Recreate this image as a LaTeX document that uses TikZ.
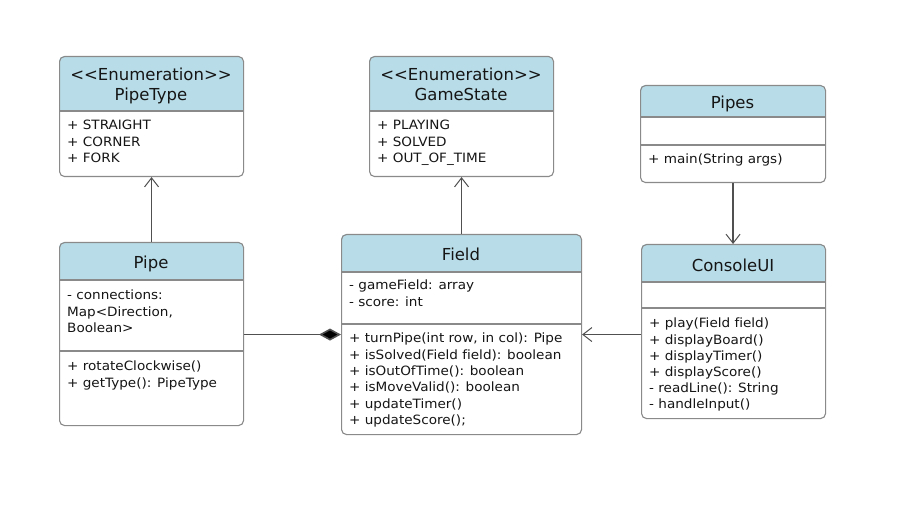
\documentclass[tikz,border=0pt]{standalone}
\usepackage{fontspec}
\setmainfont{DejaVu Sans}[Ligatures=NoCommon]
\newfontfamily\memberfont{DejaVu Sans}[Ligatures=NoCommon,FakeStretch=1.06]
\usetikzlibrary{arrows.meta}
\definecolor{hdr}{HTML}{B8DDE8}
\definecolor{edge}{HTML}{8A8A8A}
\definecolor{conn}{HTML}{505050}
\definecolor{ink}{HTML}{151515}
\tikzset{
  classbox/.style={draw=edge, line width=1.1pt, rounded corners=5pt, anchor=north west, inner sep=0pt},
  divider/.style={draw=edge, line width=1.1pt},
  member/.style={anchor=base west, inner sep=0pt, text=ink, font=\memberfont\fontsize{12.8}{15}\selectfont},
  title/.style={anchor=base, inner sep=0pt, text=ink, font=\fontsize{16.5}{19}\selectfont},
  openarrow/.style={draw=conn, line width=1.6pt, -{Straight Barb[length=9pt,width=14pt,line width=1pt]}},
  composition/.style={draw=conn, line width=1.6pt, -{Diamond[length=22pt,width=12pt,fill=black]}}
}
\newcommand\classframe[6]{% name, x1, y1, x2, y2, yheader
  \begin{scope}
    \clip[rounded corners=5pt] (#2,#3) rectangle (#4,#5);
    \fill[white] (#2,#3) rectangle (#4,#5);
    \fill[hdr] (#2,#3) rectangle (#4,#6);
  \end{scope}
  \draw[divider] (#2,#6) -- (#4,#6);
  \node[classbox, minimum width=#4pt-#2pt, minimum height=#5pt-#3pt] (#1) at (#2,#3) {};
}
\newcommand\enumtag{{<}{<}Enumeration{>}{>}}
\begin{document}
\begin{tikzpicture}[x=1pt,y=-1pt]
\useasboundingbox[fill=white] (0,0) rectangle (920,521);

% PipeType
\classframe{ptype}{59}{56}{243}{176}{111}
\node[title] (ptypeS) at (151,81) {\enumtag};
\node[title] (ptypeN) at (151,101) {PipeType};
\foreach \t [count=\i] in {+ STRAIGHT, + CORNER, + FORK}
  \node[member] (pt\i) at (67,{125+4.8+16.5*(\i-1)}) {\t};

% GameState
\classframe{gstate}{369}{56}{553}{176}{111}
\node[title] (gstateS) at (461,81) {\enumtag};
\node[title] (gstateN) at (461,101) {GameState};
\foreach \t [count=\i] in {+ PLAYING, + SOLVED, + OUT\_OF\_TIME}
  \node[member] (gs\i) at (377,{125+4.8+16.5*(\i-1)}) {\t};

% Pipes
\classframe{pipes}{640}{85}{825}{182}{117}
\draw[divider] (640,145) -- (825,145);
\node[title] (pipesN) at (732.5,109) {Pipes};
\node[member] (ps1) at (648,163.8) {+ main(String args)};

% Pipe
\classframe{pipe}{59}{242}{243}{425}{280}
\draw[divider] (59,351) -- (243,351);
\node[title] (pipeN) at (151,268) {Pipe};
\foreach \t [count=\i] in {- connections:, {Map<Direction,}, Boolean>}
  \node[member] (pa\i) at (67,{295+4.8+16.2*(\i-1)}) {\t};
\foreach \t [count=\i] in {+ rotateClockwise(), + getType(): PipeType}
  \node[member] (pm\i) at (67,{366+4.8+16.5*(\i-1)}) {\t};

% Field
\classframe{field}{341}{234}{581}{434}{272}
\draw[divider] (341,324) -- (581,324);
\node[title] (fieldN) at (461,260) {Field};
\foreach \t [count=\i] in {- gameField: array, - score: int}
  \node[member] (fa\i) at (349,{285+4.8+16.3*(\i-1)}) {\t};
\foreach \t [count=\i] in {{+ turnPipe(int row, in col): Pipe}, + isSolved(Field field): boolean, + isOutOfTime(): boolean, + isMoveValid(): boolean, + updateTimer(), + updateScore();}
  \node[member] (fm\i) at (349,{338+4.8+16.3*(\i-1)}) {\t};

% ConsoleUI
\classframe{cui}{641}{244}{825}{418}{282}
\draw[divider] (641,308) -- (825,308);
\node[title] (cuiN) at (733,271) {ConsoleUI};
\foreach \t [count=\i] in {+ play(Field field), + displayBoard(), + displayTimer(), + displayScore(), - readLine(): String, - handleInput()}
  \node[member] (cm\i) at (649,{323+4.8+16.2*(\i-1)}) {\t};

% connectors
\draw[openarrow] (pipe.north) -- (ptype.south);
\draw[openarrow] (field.north) -- (gstate.south);
\draw[openarrow] (pipes.south) -- (pipes.south |- cui.north);
\draw[composition] (pipe.east |- field.west) -- (field.west);
\draw[openarrow] (cui.west |- field.east) -- (field.east);
\end{tikzpicture}
\end{document}
